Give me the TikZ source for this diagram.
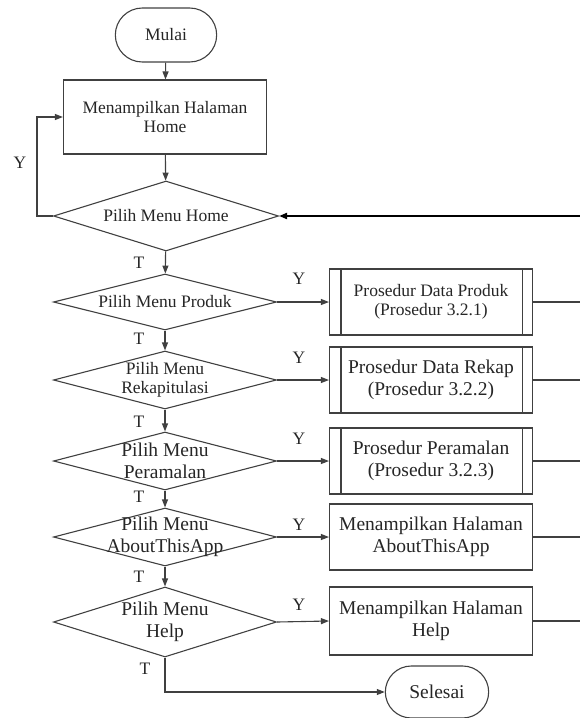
\documentclass[tikz,border=0pt]{standalone}
\usepackage{fontspec}
\setmainfont{Liberation Serif}
\usetikzlibrary{shapes.geometric, shapes.misc, arrows.meta}

\tikzset{
  txt/.style={font=\fontsize{17.5}{19.5}\selectfont, text=black!85, align=center},
  big/.style={font=\fontsize{19.5}{21.5}\selectfont},
  base/.style={txt, draw=black!75, line width=1.1pt},
  startstop/.style={base, rounded rectangle, minimum width=108pt, minimum height=54pt},
  process/.style={base, rectangle, minimum width=203pt, minimum height=66pt},
  decision/.style={base, diamond, minimum width=223pt, minimum height=58pt, inner sep=0pt},
  yt/.style={txt, inner sep=0pt},
  line/.style={draw=black!75, line width=1.1pt},
  flow/.style={line, -{Triangle[length=8pt,width=6pt]}},
}

\begin{document}
\begin{tikzpicture}[x=1pt, y=-1pt]
\useasboundingbox (0,0) rectangle (580,718);

% left column
\node[startstop] (start) at (166,35) {Mulai};
\node[process, minimum height=74pt] (home) at (165,117) {Menampilkan Halaman\\Home};
\node[decision, minimum width=225pt, minimum height=70pt,
  label={[txt]center:Pilih Menu Home}] (dhome) at (166,216) {};
\node[decision, minimum height=56pt,
  label={[txt]center:Pilih Menu Produk}] (dproduk) at (165,302) {};
\node[decision,
  label={[txt]center:Pilih Menu\\Rekapitulasi}] (drekap) at (165,380) {};
\node[decision,
  label={[txt, big]center:Pilih Menu\\Peramalan}] (dramal) at (165,461) {};
\node[decision,
  label={[txt, big]center:Pilih Menu\\AboutThisApp}] (dabout) at (165,537) {};
\node[decision, minimum height=70pt,
  label={[txt, big]center:Pilih Menu\\Help}] (dhelp) at (165,622) {};

% right column
\node[process] (produk) at (431,302) {Prosedur Data Produk\\(Prosedur 3.2.1)};
\node[process, big] (rekap) at (431,380) {Prosedur Data Rekap\\(Prosedur 3.2.2)};
\node[process, big] (ramal) at (431,461) {Prosedur Peramalan\\(Prosedur 3.2.3)};
\node[process, big] (about) at (431,537) {Menampilkan Halaman\\AboutThisApp};
\node[process, big, minimum height=68pt] (help) at (431,621) {Menampilkan Halaman\\Help};
\node[startstop, big, minimum width=110pt, minimum height=52pt] (stop) at (437,692) {Selesai};

\foreach \p in {produk, rekap, ramal} {
  \draw[line] ([xshift=12pt]\p.north west) -- ([xshift=12pt]\p.south west);
  \draw[line] ([xshift=-11pt]\p.north east) -- ([xshift=-11pt]\p.south east);
}

% free ends at the right edge
\coordinate (e0) at (580,216);
\coordinate (e1) at (580,302);
\coordinate (e2) at (580,380);
\coordinate (e3) at (580,461);
\coordinate (e4) at (580,537);
\coordinate (e5) at (580,621);

% main flow
\draw[flow] (start) -- (home);
\draw[flow] (home) -- (dhome);
\draw[flow] (dhome.west) -- ++(-16,0) |- (home.west);
\draw[flow] (dhome) -- (dproduk);
\draw[flow] (dproduk) -- (drekap);
\draw[flow] (drekap) -- (dramal);
\draw[flow] (dramal) -- (dabout);
\draw[flow] (dabout) -- (dhelp);
\draw[flow] (dhelp.south) |- (stop.west);

\draw[flow] (dproduk.east) -- (produk.west);
\draw[flow] (drekap.east) -- (rekap.west);
\draw[flow] (dramal.east) -- (ramal.west);
\draw[flow] (dabout.east) -- (about.west);
\draw[flow] (dhelp.east) -- (help.west);

\draw[line] (produk.east) -- (e1);
\draw[line] (rekap.east) -- (e2);
\draw[line] (ramal.east) -- (e3);
\draw[line] (about.east) -- (e4);
\draw[line] (help.east) -- (e5);
\draw[flow, draw=black, line width=2.2pt] (e0) -- (dhome.east);

% Y / T labels
\node[yt] (y0) at (20,163) {Y};
\node[yt] (y1) at (299,279) {Y};
\node[yt] (y2) at (299,358) {Y};
\node[yt] (y3) at (299,439) {Y};
\node[yt] (y4) at (299,525) {Y};
\node[yt] (y5) at (299,605) {Y};
\node[yt] (t1) at (139,263) {T};
\node[yt] (t2) at (139,339) {T};
\node[yt] (t3) at (139,422) {T};
\node[yt] (t4) at (139,497) {T};
\node[yt] (t5) at (139,577) {T};
\node[yt] (t6) at (145,669) {T};
\end{tikzpicture}
\end{document}
